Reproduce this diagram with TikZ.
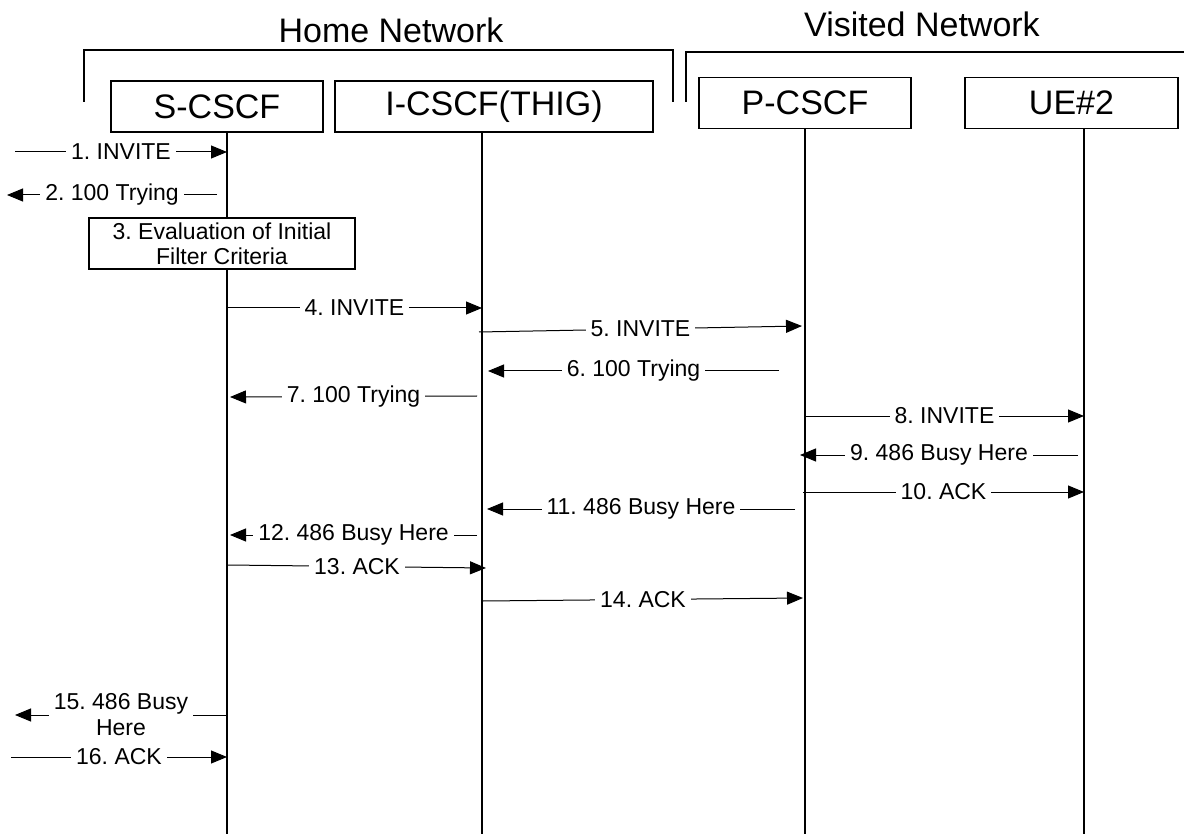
\documentclass[tikz,border=0pt]{standalone}
\usepackage{fontspec}
\setmainfont{Liberation Sans}
\usetikzlibrary{arrows.meta}
\frenchspacing

\begin{document}
\begin{tikzpicture}[x=1pt,y=-1pt]
		% Styles (MODIFIABLES)
		\tikzstyle{entite}=[draw,line width=1.6pt,minimum height=51pt,inner sep=0pt,font=\fontsize{34pt}{38pt}\selectfont]
		\tikzstyle{vie}=[line width=1.6pt]
		\tikzstyle{cadre}=[line width=1.6pt]
		\tikzstyle{reseau}=[font=\fontsize{34pt}{38pt}\selectfont]
		\tikzstyle{message}=[-{Triangle[length=16pt,width=13pt]},line width=1pt]
		\tikzstyle{etiquette}=[midway,fill=white,inner xsep=5pt,inner ysep=1pt,align=center,font=\fontsize{23pt}{26pt}\selectfont]
		\tikzstyle{traitement}=[draw,fill=white,line width=1.6pt,minimum width=266pt,minimum height=51pt,inner sep=0pt,align=center,font=\fontsize{23pt}{25pt}\selectfont]
		% Dimensions (MODIFIABLES)
		\def\xS{227}
		\def\xI{482}
		\def\xP{805}
		\def\xU{1084}
		\def\yBas{834}
		\useasboundingbox (0,0) rectangle (1184,834);
		% Reseaux
		\node[reseau] (home) at (391,30) {Home Network};
		\node[reseau] (visited) at (922,24) {Visited Network};
		\draw[cadre] (84,102) -- (84,50) -- (673,50) -- (673,102);
		\draw[cadre] (686,102) -- (686,52) -- (1184,52);
		% Entites
		\node[entite,minimum width=212pt] (scscf) at (217,106.5) {S-CSCF};
		\node[entite,minimum width=318pt] (icscf) at (494,106.5) {I-CSCF(THIG)};
		\node[entite,minimum width=212pt] (pcscf) at (805,103) {P-CSCF};
		\node[entite,minimum width=213pt] (ue) at (1071.5,103) {UE\#2};
		% Lignes de vie
		\coordinate (scscf bas) at (\xS,\yBas);
		\coordinate (icscf bas) at (\xI,\yBas);
		\coordinate (pcscf bas) at (\xP,\yBas);
		\coordinate (ue bas) at (\xU,\yBas);
		\draw[vie] (scscf.south -| scscf bas) -- (scscf bas);
		\draw[vie] (icscf.south -| icscf bas) -- (icscf bas);
		\draw[vie] (pcscf.south -| pcscf bas) -- (pcscf bas);
		\draw[vie] (ue.south -| ue bas) -- (ue bas);
		%
		\node[traitement] (eval) at (222,243.5) {3. Evaluation of Initial\\Filter Criteria};
		% Messages (MODIFIABLES : Styles)
		\coordinate (m1a) at (15,152);  \coordinate (m1b) at (\xS,152);
		\coordinate (m2a) at (217,195); \coordinate (m2b) at (7,195);
		\coordinate (m4a) at (\xS,308); \coordinate (m4b) at (\xI,308);
		\coordinate (m5a) at (479,332); \coordinate (m5b) at (802,326);
		\coordinate (m6a) at (779,371); \coordinate (m6b) at (488,371);
		\coordinate (m7a) at (477,396); \coordinate (m7b) at (230,397);
		\coordinate (m8a) at (\xP,416); \coordinate (m8b) at (\xU,416);
		\coordinate (m9a) at (1078,455); \coordinate (m9b) at (800,455);
		\coordinate (m10a) at (803,492); \coordinate (m10b) at (\xU,492);
		\coordinate (m11a) at (795,509); \coordinate (m11b) at (487,509);
		\coordinate (m12a) at (477,535); \coordinate (m12b) at (230,535);
		\coordinate (m13a) at (228,565); \coordinate (m13b) at (486,568);
		\coordinate (m14a) at (483,601); \coordinate (m14b) at (803,598);
		\coordinate (m15a) at (\xS,715); \coordinate (m15b) at (15,715);
		\coordinate (m16a) at (11,757); \coordinate (m16b) at (\xS,757);
		%
		\draw[message] (m1a)--(m1b) node[etiquette]{1. INVITE};
		\draw[message] (m2a)--(m2b) node[etiquette]{2. 100 Trying};
		\draw[message] (m4a)--(m4b) node[etiquette]{4. INVITE};
		\draw[message] (m5a)--(m5b) node[etiquette]{5. INVITE};
		\draw[message] (m6a)--(m6b) node[etiquette]{6. 100 Trying};
		\draw[message] (m7a)--(m7b) node[etiquette]{7. 100 Trying};
		\draw[message] (m8a)--(m8b) node[etiquette]{8. INVITE};
		\draw[message] (m9a)--(m9b) node[etiquette]{9. 486 Busy Here};
		\draw[message] (m10a)--(m10b) node[etiquette]{10. ACK};
		\draw[message] (m11a)--(m11b) node[etiquette]{11. 486 Busy Here};
		\draw[message] (m12a)--(m12b) node[etiquette]{12. 486 Busy Here};
		\draw[message] (m13a)--(m13b) node[etiquette]{13. ACK};
		\draw[message] (m14a)--(m14b) node[etiquette]{14. ACK};
		\draw[message] (m15a)--(m15b) node[etiquette]{15. 486 Busy\\Here};
		\draw[message] (m16a)--(m16b) node[etiquette]{16. ACK};
	\end{tikzpicture}
\end{document}
